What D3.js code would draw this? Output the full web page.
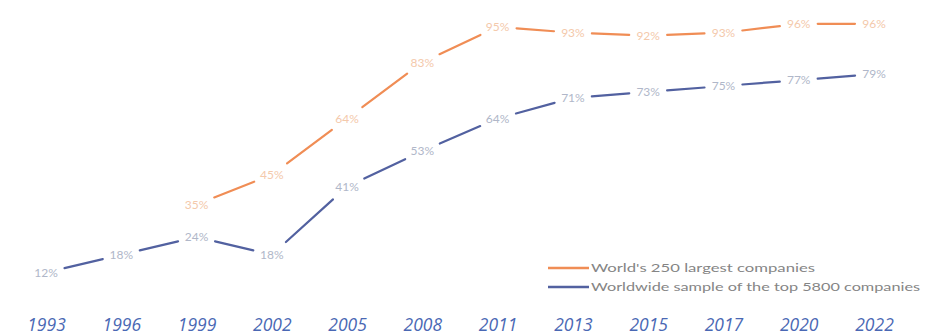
<!DOCTYPE html>
<html><head><meta charset="utf-8">
<script src="https://cdn.jsdelivr.net/npm/d3@7"></script>
<style>body{margin:0;background:#fff}svg{display:block}</style>
</head><body>
<script>
const years = ["1993","1996","1999","2002","2005","2008","2011","2013","2015","2017","2020","2022"];
const g250Years = ["1999","2002","2005","2008","2011","2013","2015","2017","2020","2022"];
const g250Values = [35,45,64,83,95,93,92,93,96,96];
const n100Values = [12,18,24,18,41,53,64,71,73,75,77,79];
const seriesNames = ["World's 250 largest companies","Worldwide sample of the top 5800 companies"];

const W=930,H=336;
const svg=d3.select("body").append("svg").attr("width",W).attr("height",H);
const x=d3.scalePoint().domain(years).range([46,874]);
const y=d3.scaleLinear().domain([0,100]).range([308,12]);

const series=[
  {name:seriesNames[0],color:"#f08d55",label:"#f4c9ab",pts:g250Years.map((yr,i)=>({yr,v:g250Values[i]}))},
  {name:seriesNames[1],color:"#5261a0",label:"#b0b7c9",pts:years.map((yr,i)=>({yr,v:n100Values[i]}))}
];

const gap=19;
series.forEach(s=>{
  const p=s.pts.map(d=>[x(d.yr),y(d.v)]);
  for(let i=0;i<p.length-1;i++){
    const [x0,y0]=p[i],[x1,y1]=p[i+1];
    const dx=x1-x0,dy=y1-y0,L=Math.hypot(dx,dy);
    const ux=dx/L,uy=dy/L;
    svg.append("line").attr("x1",x0+ux*gap).attr("y1",y0+uy*gap)
      .attr("x2",x1-ux*gap).attr("y2",y1-uy*gap)
      .attr("stroke",s.color).attr("stroke-width",2.2).attr("stroke-linecap","round");
  }
  svg.append("g").selectAll("text").data(s.pts).join("text")
    .attr("x",d=>x(d.yr)).attr("y",d=>y(d.v)).attr("dy","0.35em")
    .attr("text-anchor","middle").attr("font-family","Lato, sans-serif").attr("font-size",12)
    .attr("fill",s.label).text(d=>d.v+"%");
});

// x axis labels
const ax=d3.axisBottom(x).tickSize(0).tickPadding(0);
const axg=svg.append("g").attr("transform","translate(0,319)").call(ax);
axg.select(".domain").remove();
axg.selectAll("text").attr("font-family","'Open Sans', sans-serif").attr("font-size",17.5)
  .attr("font-style","italic").attr("fill","#4a68b4").attr("dy","0.71em");

// legend
const lg=svg.append("g");
series.forEach((s,i)=>{
  const ly=268+i*19;
  lg.append("line").attr("x1",548).attr("x2",589).attr("y1",ly).attr("y2",ly)
    .attr("stroke",s.color).attr("stroke-width",2.5);
  lg.append("text").attr("x",591).attr("y",ly).attr("dy","0.35em")
    .attr("font-family","Lato, sans-serif").attr("font-size",12).attr("fill","#858585")
    .attr("textLength",i===0?224:329).attr("lengthAdjust","spacingAndGlyphs").text(s.name);
});
</script>
</body></html>
